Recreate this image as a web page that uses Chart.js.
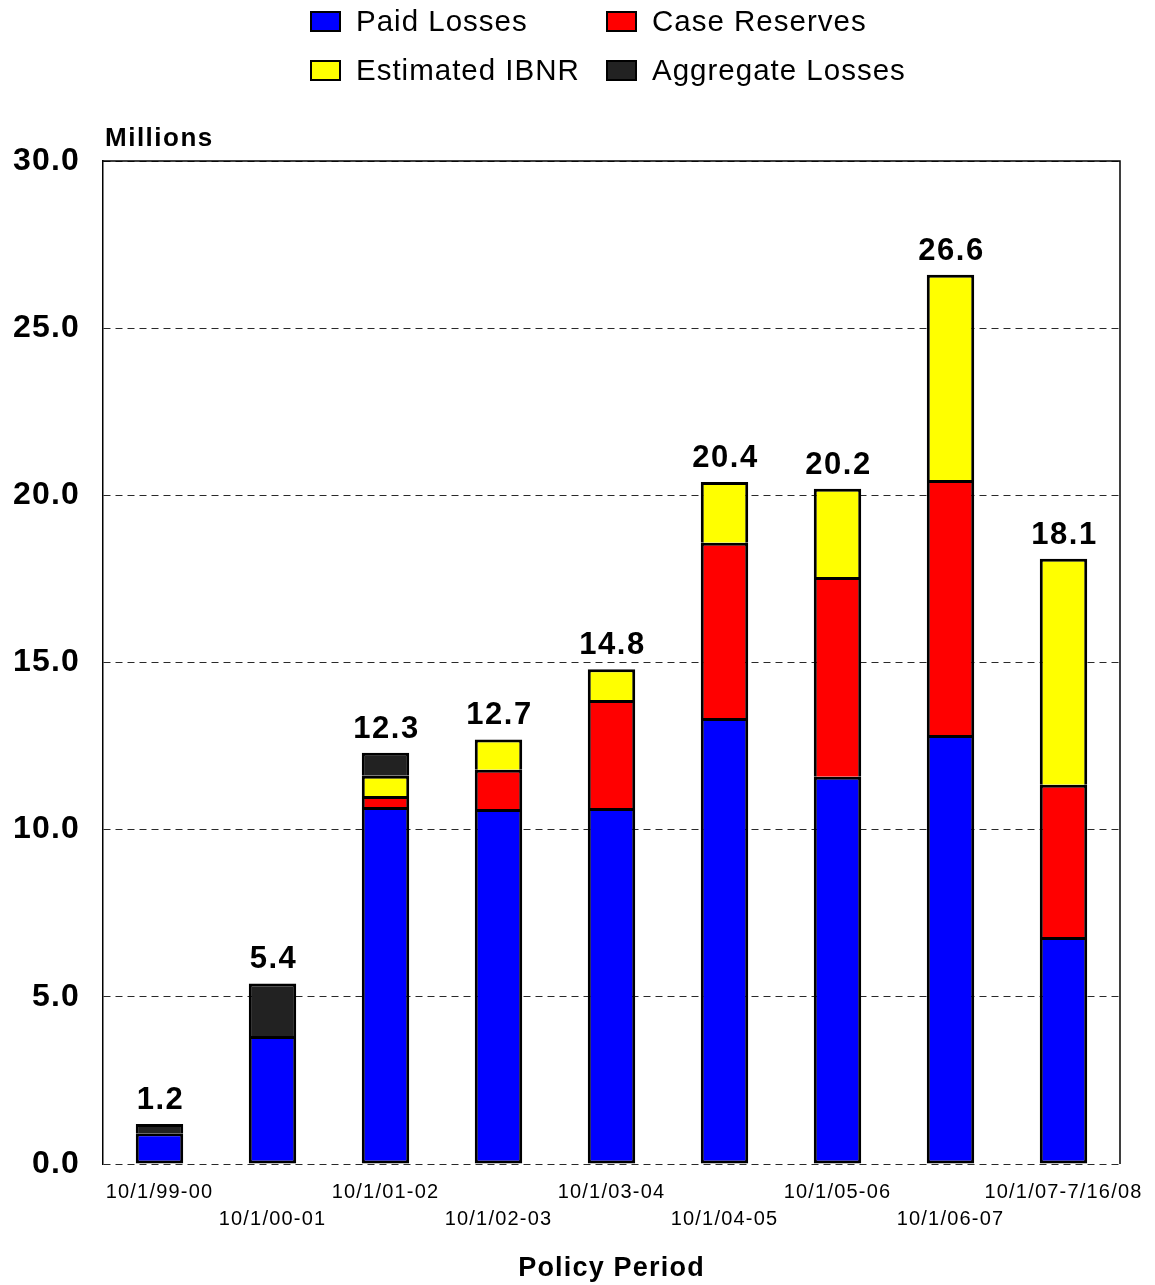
<!DOCTYPE html>
<html>
<head>
<meta charset="utf-8">
<script src="https://cdn.jsdelivr.net/npm/chart.js@4/dist/chart.umd.min.js"></script>
<style>
  html, body { margin: 0; padding: 0; background: #fff; }
  #wrap { position: relative; width: 1155px; height: 1285px; }
  #chart { position: absolute; left: 0; top: 0; }
  #legend {
    position: absolute; left: 310px; top: 0px;
    display: grid; grid-template-columns: 296px 340px; grid-auto-rows: 49px;
    font-family: "Liberation Sans", Arial, sans-serif; font-size: 29.5px; letter-spacing: 1px;
    color: #000;
  }
  #legend .item { display: flex; align-items: center; height: 42px; }
  #legend .box { width: 27px; height: 17px; border: 2px solid #000; margin-right: 15px; flex: none; }
</style>
</head>
<body>
<div id="wrap">
  <canvas id="chart" width="1155" height="1285"></canvas>
  <div id="legend"></div>
</div>
<script>
// Policy periods and loss components, in millions
const categories = ['10/1/99-00', '10/1/00-01', '10/1/01-02', '10/1/02-03', '10/1/03-04',
                    '10/1/04-05', '10/1/05-06', '10/1/06-07', '10/1/07-7/16/08'];
const paidLosses      = [0.92, 3.83, 10.68, 10.62, 10.65, 13.34, 11.58, 12.83, 6.79];
const caseReserves    = [null, null, 0.33, 1.17, 3.23, 5.24, 5.98, 7.63, 4.55];
const estimatedIBNR   = [null, null, 0.60, 0.91, 0.92, 1.82, 2.64, 6.14, 6.76];
const aggregateLosses = [0.28, 1.57, 0.69, null, null, null, null, null, null];
const seriesNames  = ['Paid Losses', 'Case Reserves', 'Estimated IBNR', 'Aggregate Losses'];
const seriesColors = ['#0000ff', '#ff0000', '#ffff00', '#222222'];
const yTicks = [0, 5, 10, 15, 20, 25, 30];

const FONT = '"Liberation Sans", Arial, sans-serif';

// Slightly tracked-out lettering for all canvas text
const spacingPlugin = {
  id: 'spacing',
  beforeDraw(chart) { chart.ctx.letterSpacing = '1.2px'; }
};

// Stack totals printed above each bar
const totalsPlugin = {
  id: 'totals',
  afterDatasetsDraw(chart) {
    const ctx = chart.ctx;
    ctx.save();
    ctx.letterSpacing = '1.5px';
    ctx.font = 'bold 31px ' + FONT;
    ctx.fillStyle = '#000';
    ctx.textAlign = 'center';
    ctx.textBaseline = 'alphabetic';
    categories.forEach((c, i) => {
      let total = 0;
      chart.data.datasets.forEach(ds => { if (ds.data[i] != null) total += ds.data[i]; });
      const x = chart.scales.x.getPixelForValue(i) + 1;
      const y = chart.scales.y.getPixelForValue(total);
      ctx.fillText(total.toFixed(1), x, y - 15);
    });
    ctx.restore();
  }
};

// Frame around plot area plus the units caption
const framePlugin = {
  id: 'frame',
  afterDraw(chart) {
    const { ctx, chartArea: a } = chart;
    ctx.save();
    ctx.strokeStyle = '#000';
    ctx.lineWidth = 1.5;
    ctx.beginPath();
    ctx.moveTo(a.left, a.top);
    ctx.lineTo(a.right, a.top);
    ctx.lineTo(a.right, a.bottom);
    ctx.stroke();
    ctx.letterSpacing = '1.5px';
    ctx.font = 'bold 26px ' + FONT;
    ctx.fillStyle = '#000';
    ctx.textAlign = 'left';
    ctx.textBaseline = 'alphabetic';
    ctx.fillText('Millions', a.left + 2, a.top - 15);
    ctx.restore();
  }
};

const datasets = [paidLosses, caseReserves, estimatedIBNR, aggregateLosses].map((d, k) => ({
  label: seriesNames[k],
  data: d,
  backgroundColor: seriesColors[k],
  borderColor: '#000',
  borderWidth: 3,
  borderSkipped: k === 0 ? false : 'start',
  categoryPercentage: 1,
  barPercentage: 0.42
}));

const chart = new Chart(document.getElementById('chart'), {
  type: 'bar',
  data: { labels: categories, datasets },
  options: {
    responsive: false,
    animation: false,
    layout: { padding: { top: 161, right: 35, left: 0, bottom: 0 } },
    plugins: { legend: { display: false }, tooltip: { enabled: false } },
    scales: {
      x: {
        stacked: true,
        grid: { display: false, drawTicks: false },
        border: { display: false },
        ticks: {
          color: '#000',
          font: { family: FONT, size: 20, lineHeight: 1.35 },
          padding: 15,
          maxRotation: 0,
          autoSkip: false,
          callback: (v, i) => (i % 2 === 0 ? [categories[i]] : ['', categories[i]])
        },
        title: {
          display: true,
          text: 'Policy Period',
          color: '#000',
          font: { family: FONT, size: 27, weight: 'bold' },
          padding: { top: 0, bottom: 0 }
        },
        afterFit(s) { s.height = 121; s.paddingLeft = 0; s.paddingRight = 0; }
      },
      y: {
        stacked: true,
        min: 0,
        max: 30,
        afterBuildTicks(s) { s.ticks = yTicks.map(v => ({ value: v })); },
        grid: { color: '#2a2a2a', lineWidth: 1, drawTicks: false },
        border: { display: true, color: '#000', width: 1.5, dash: [7, 5] },
        ticks: {
          color: '#000',
          font: { family: FONT, size: 32, weight: 'bold' },
          padding: 23,
          callback: v => Number(v).toFixed(1)
        },
        afterFit(s) { s.width = 103; }
      }
    }
  },
  plugins: [spacingPlugin, totalsPlugin, framePlugin]
});

// Two-column legend built from the datasets
const legend = document.getElementById('legend');
chart.data.datasets.forEach(ds => {
  const item = document.createElement('div');
  item.className = 'item';
  const box = document.createElement('span');
  box.className = 'box';
  box.style.background = ds.backgroundColor;
  const txt = document.createElement('span');
  txt.textContent = ds.label;
  item.appendChild(box);
  item.appendChild(txt);
  legend.appendChild(item);
});
</script>
</body>
</html>
